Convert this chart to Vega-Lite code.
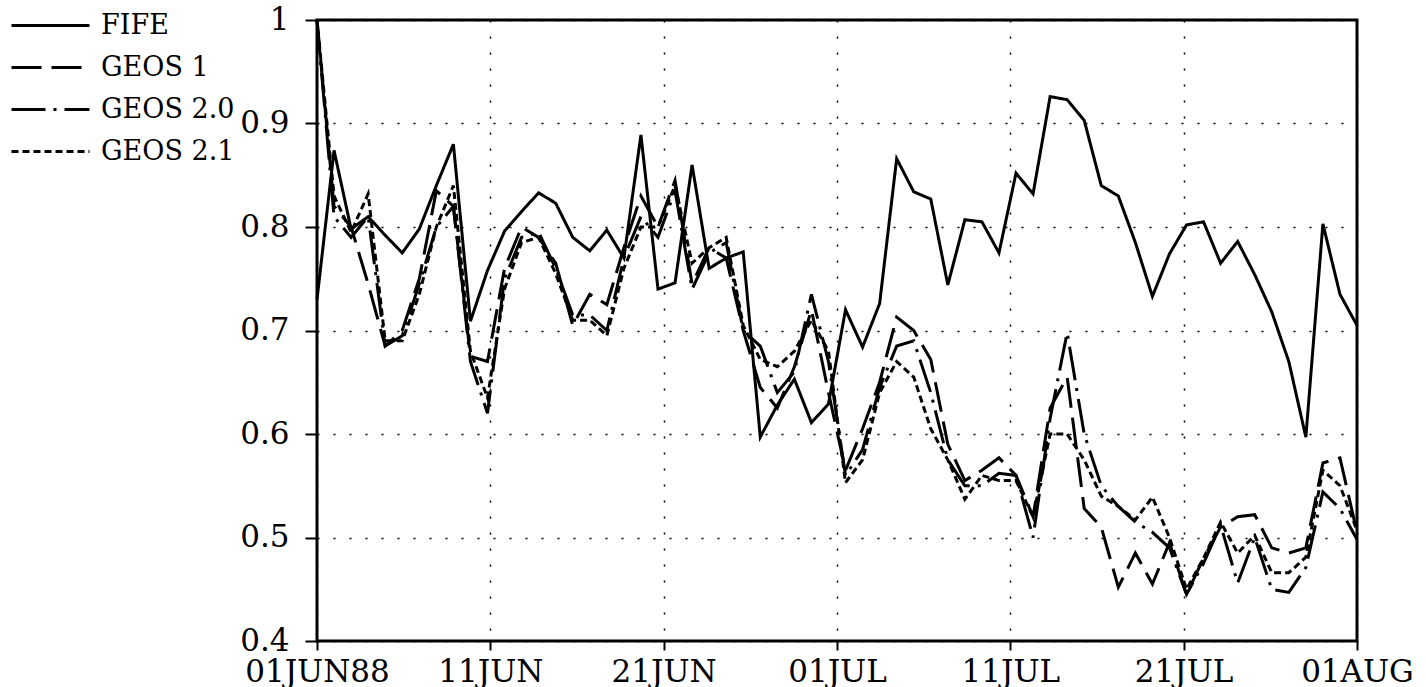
{
  "$schema": "https://vega.github.io/schema/vega-lite/v6.json",
  "width": 1040,
  "height": 621,
  "autosize": "none",
  "padding": {"left": 317, "top": 20, "right": 69, "bottom": 46},
  "background": "white",
  "config": {
    "view": {"stroke": "black", "strokeWidth": 3},
    "font": "DejaVu Serif"
  },
  "data": {"values": [
    {"date":"1988-06-01","series":"FIFE","value":0.73},
    {"date":"1988-06-02","series":"FIFE","value":0.874},
    {"date":"1988-06-03","series":"FIFE","value":0.798},
    {"date":"1988-06-04","series":"FIFE","value":0.81},
    {"date":"1988-06-05","series":"FIFE","value":0.792},
    {"date":"1988-06-06","series":"FIFE","value":0.775},
    {"date":"1988-06-07","series":"FIFE","value":0.798},
    {"date":"1988-06-08","series":"FIFE","value":0.84},
    {"date":"1988-06-09","series":"FIFE","value":0.88},
    {"date":"1988-06-10","series":"FIFE","value":0.709},
    {"date":"1988-06-11","series":"FIFE","value":0.758},
    {"date":"1988-06-12","series":"FIFE","value":0.796},
    {"date":"1988-06-13","series":"FIFE","value":0.815},
    {"date":"1988-06-14","series":"FIFE","value":0.833},
    {"date":"1988-06-15","series":"FIFE","value":0.823},
    {"date":"1988-06-16","series":"FIFE","value":0.79},
    {"date":"1988-06-17","series":"FIFE","value":0.777},
    {"date":"1988-06-18","series":"FIFE","value":0.797},
    {"date":"1988-06-19","series":"FIFE","value":0.77},
    {"date":"1988-06-20","series":"FIFE","value":0.889},
    {"date":"1988-06-21","series":"FIFE","value":0.74},
    {"date":"1988-06-22","series":"FIFE","value":0.746},
    {"date":"1988-06-23","series":"FIFE","value":0.86},
    {"date":"1988-06-24","series":"FIFE","value":0.76},
    {"date":"1988-06-25","series":"FIFE","value":0.77},
    {"date":"1988-06-26","series":"FIFE","value":0.776},
    {"date":"1988-06-27","series":"FIFE","value":0.597},
    {"date":"1988-06-28","series":"FIFE","value":0.628},
    {"date":"1988-06-29","series":"FIFE","value":0.653},
    {"date":"1988-06-30","series":"FIFE","value":0.611},
    {"date":"1988-07-01","series":"FIFE","value":0.629},
    {"date":"1988-07-02","series":"FIFE","value":0.72},
    {"date":"1988-07-03","series":"FIFE","value":0.684},
    {"date":"1988-07-04","series":"FIFE","value":0.726},
    {"date":"1988-07-05","series":"FIFE","value":0.866},
    {"date":"1988-07-06","series":"FIFE","value":0.834},
    {"date":"1988-07-07","series":"FIFE","value":0.827},
    {"date":"1988-07-08","series":"FIFE","value":0.744},
    {"date":"1988-07-09","series":"FIFE","value":0.807},
    {"date":"1988-07-10","series":"FIFE","value":0.805},
    {"date":"1988-07-11","series":"FIFE","value":0.775},
    {"date":"1988-07-12","series":"FIFE","value":0.852},
    {"date":"1988-07-13","series":"FIFE","value":0.832},
    {"date":"1988-07-14","series":"FIFE","value":0.926},
    {"date":"1988-07-15","series":"FIFE","value":0.923},
    {"date":"1988-07-16","series":"FIFE","value":0.903},
    {"date":"1988-07-17","series":"FIFE","value":0.84},
    {"date":"1988-07-18","series":"FIFE","value":0.83},
    {"date":"1988-07-19","series":"FIFE","value":0.785},
    {"date":"1988-07-20","series":"FIFE","value":0.733},
    {"date":"1988-07-21","series":"FIFE","value":0.774},
    {"date":"1988-07-22","series":"FIFE","value":0.802},
    {"date":"1988-07-23","series":"FIFE","value":0.805},
    {"date":"1988-07-24","series":"FIFE","value":0.765},
    {"date":"1988-07-25","series":"FIFE","value":0.786},
    {"date":"1988-07-26","series":"FIFE","value":0.754},
    {"date":"1988-07-27","series":"FIFE","value":0.718},
    {"date":"1988-07-28","series":"FIFE","value":0.67},
    {"date":"1988-07-29","series":"FIFE","value":0.597},
    {"date":"1988-07-30","series":"FIFE","value":0.803},
    {"date":"1988-07-31","series":"FIFE","value":0.735},
    {"date":"1988-08-01","series":"FIFE","value":0.705},

    {"date":"1988-06-01","series":"GEOS 1","value":1.0},
    {"date":"1988-06-02","series":"GEOS 1","value":0.82},
    {"date":"1988-06-03","series":"GEOS 1","value":0.80},
    {"date":"1988-06-04","series":"GEOS 1","value":0.745},
    {"date":"1988-06-05","series":"GEOS 1","value":0.685},
    {"date":"1988-06-06","series":"GEOS 1","value":0.70},
    {"date":"1988-06-07","series":"GEOS 1","value":0.75},
    {"date":"1988-06-08","series":"GEOS 1","value":0.835},
    {"date":"1988-06-09","series":"GEOS 1","value":0.82},
    {"date":"1988-06-10","series":"GEOS 1","value":0.675},
    {"date":"1988-06-11","series":"GEOS 1","value":0.67},
    {"date":"1988-06-12","series":"GEOS 1","value":0.76},
    {"date":"1988-06-13","series":"GEOS 1","value":0.80},
    {"date":"1988-06-14","series":"GEOS 1","value":0.79},
    {"date":"1988-06-15","series":"GEOS 1","value":0.765},
    {"date":"1988-06-16","series":"GEOS 1","value":0.705},
    {"date":"1988-06-17","series":"GEOS 1","value":0.735},
    {"date":"1988-06-18","series":"GEOS 1","value":0.725},
    {"date":"1988-06-19","series":"GEOS 1","value":0.78},
    {"date":"1988-06-20","series":"GEOS 1","value":0.83},
    {"date":"1988-06-21","series":"GEOS 1","value":0.80},
    {"date":"1988-06-22","series":"GEOS 1","value":0.845},
    {"date":"1988-06-23","series":"GEOS 1","value":0.745},
    {"date":"1988-06-24","series":"GEOS 1","value":0.78},
    {"date":"1988-06-25","series":"GEOS 1","value":0.77},
    {"date":"1988-06-26","series":"GEOS 1","value":0.70},
    {"date":"1988-06-27","series":"GEOS 1","value":0.645},
    {"date":"1988-06-28","series":"GEOS 1","value":0.625},
    {"date":"1988-06-29","series":"GEOS 1","value":0.665},
    {"date":"1988-06-30","series":"GEOS 1","value":0.72},
    {"date":"1988-07-01","series":"GEOS 1","value":0.64},
    {"date":"1988-07-02","series":"GEOS 1","value":0.565},
    {"date":"1988-07-03","series":"GEOS 1","value":0.605},
    {"date":"1988-07-04","series":"GEOS 1","value":0.65},
    {"date":"1988-07-05","series":"GEOS 1","value":0.713},
    {"date":"1988-07-06","series":"GEOS 1","value":0.70},
    {"date":"1988-07-07","series":"GEOS 1","value":0.672},
    {"date":"1988-07-08","series":"GEOS 1","value":0.59},
    {"date":"1988-07-09","series":"GEOS 1","value":0.555},
    {"date":"1988-07-10","series":"GEOS 1","value":0.565},
    {"date":"1988-07-11","series":"GEOS 1","value":0.577},
    {"date":"1988-07-12","series":"GEOS 1","value":0.56},
    {"date":"1988-07-13","series":"GEOS 1","value":0.52},
    {"date":"1988-07-14","series":"GEOS 1","value":0.625},
    {"date":"1988-07-15","series":"GEOS 1","value":0.655},
    {"date":"1988-07-16","series":"GEOS 1","value":0.528},
    {"date":"1988-07-17","series":"GEOS 1","value":0.51},
    {"date":"1988-07-18","series":"GEOS 1","value":0.452},
    {"date":"1988-07-19","series":"GEOS 1","value":0.485},
    {"date":"1988-07-20","series":"GEOS 1","value":0.455},
    {"date":"1988-07-21","series":"GEOS 1","value":0.495},
    {"date":"1988-07-22","series":"GEOS 1","value":0.445},
    {"date":"1988-07-23","series":"GEOS 1","value":0.48},
    {"date":"1988-07-24","series":"GEOS 1","value":0.51},
    {"date":"1988-07-25","series":"GEOS 1","value":0.52},
    {"date":"1988-07-26","series":"GEOS 1","value":0.522},
    {"date":"1988-07-27","series":"GEOS 1","value":0.49},
    {"date":"1988-07-28","series":"GEOS 1","value":0.485},
    {"date":"1988-07-29","series":"GEOS 1","value":0.49},
    {"date":"1988-07-30","series":"GEOS 1","value":0.572},
    {"date":"1988-07-31","series":"GEOS 1","value":0.577},
    {"date":"1988-08-01","series":"GEOS 1","value":0.505},

    {"date":"1988-06-01","series":"GEOS 2.0","value":1.0},
    {"date":"1988-06-02","series":"GEOS 2.0","value":0.81},
    {"date":"1988-06-03","series":"GEOS 2.0","value":0.79},
    {"date":"1988-06-04","series":"GEOS 2.0","value":0.81},
    {"date":"1988-06-05","series":"GEOS 2.0","value":0.685},
    {"date":"1988-06-06","series":"GEOS 2.0","value":0.695},
    {"date":"1988-06-07","series":"GEOS 2.0","value":0.745},
    {"date":"1988-06-08","series":"GEOS 2.0","value":0.80},
    {"date":"1988-06-09","series":"GEOS 2.0","value":0.82},
    {"date":"1988-06-10","series":"GEOS 2.0","value":0.67},
    {"date":"1988-06-11","series":"GEOS 2.0","value":0.62},
    {"date":"1988-06-12","series":"GEOS 2.0","value":0.75},
    {"date":"1988-06-13","series":"GEOS 2.0","value":0.79},
    {"date":"1988-06-14","series":"GEOS 2.0","value":0.795},
    {"date":"1988-06-15","series":"GEOS 2.0","value":0.76},
    {"date":"1988-06-16","series":"GEOS 2.0","value":0.715},
    {"date":"1988-06-17","series":"GEOS 2.0","value":0.715},
    {"date":"1988-06-18","series":"GEOS 2.0","value":0.70},
    {"date":"1988-06-19","series":"GEOS 2.0","value":0.77},
    {"date":"1988-06-20","series":"GEOS 2.0","value":0.81},
    {"date":"1988-06-21","series":"GEOS 2.0","value":0.79},
    {"date":"1988-06-22","series":"GEOS 2.0","value":0.835},
    {"date":"1988-06-23","series":"GEOS 2.0","value":0.74},
    {"date":"1988-06-24","series":"GEOS 2.0","value":0.775},
    {"date":"1988-06-25","series":"GEOS 2.0","value":0.785},
    {"date":"1988-06-26","series":"GEOS 2.0","value":0.70},
    {"date":"1988-06-27","series":"GEOS 2.0","value":0.685},
    {"date":"1988-06-28","series":"GEOS 2.0","value":0.64},
    {"date":"1988-06-29","series":"GEOS 2.0","value":0.66},
    {"date":"1988-06-30","series":"GEOS 2.0","value":0.735},
    {"date":"1988-07-01","series":"GEOS 2.0","value":0.67},
    {"date":"1988-07-02","series":"GEOS 2.0","value":0.56},
    {"date":"1988-07-03","series":"GEOS 2.0","value":0.585},
    {"date":"1988-07-04","series":"GEOS 2.0","value":0.645},
    {"date":"1988-07-05","series":"GEOS 2.0","value":0.685},
    {"date":"1988-07-06","series":"GEOS 2.0","value":0.69},
    {"date":"1988-07-07","series":"GEOS 2.0","value":0.64},
    {"date":"1988-07-08","series":"GEOS 2.0","value":0.575},
    {"date":"1988-07-09","series":"GEOS 2.0","value":0.55},
    {"date":"1988-07-10","series":"GEOS 2.0","value":0.55},
    {"date":"1988-07-11","series":"GEOS 2.0","value":0.562},
    {"date":"1988-07-12","series":"GEOS 2.0","value":0.56},
    {"date":"1988-07-13","series":"GEOS 2.0","value":0.50},
    {"date":"1988-07-14","series":"GEOS 2.0","value":0.615},
    {"date":"1988-07-15","series":"GEOS 2.0","value":0.698},
    {"date":"1988-07-16","series":"GEOS 2.0","value":0.60},
    {"date":"1988-07-17","series":"GEOS 2.0","value":0.55},
    {"date":"1988-07-18","series":"GEOS 2.0","value":0.53},
    {"date":"1988-07-19","series":"GEOS 2.0","value":0.515},
    {"date":"1988-07-20","series":"GEOS 2.0","value":0.505},
    {"date":"1988-07-21","series":"GEOS 2.0","value":0.49},
    {"date":"1988-07-22","series":"GEOS 2.0","value":0.445},
    {"date":"1988-07-23","series":"GEOS 2.0","value":0.475},
    {"date":"1988-07-24","series":"GEOS 2.0","value":0.512},
    {"date":"1988-07-25","series":"GEOS 2.0","value":0.456},
    {"date":"1988-07-26","series":"GEOS 2.0","value":0.50},
    {"date":"1988-07-27","series":"GEOS 2.0","value":0.45},
    {"date":"1988-07-28","series":"GEOS 2.0","value":0.447},
    {"date":"1988-07-29","series":"GEOS 2.0","value":0.471},
    {"date":"1988-07-30","series":"GEOS 2.0","value":0.544},
    {"date":"1988-07-31","series":"GEOS 2.0","value":0.528},
    {"date":"1988-08-01","series":"GEOS 2.0","value":0.498},

    {"date":"1988-06-01","series":"GEOS 2.1","value":1.0},
    {"date":"1988-06-02","series":"GEOS 2.1","value":0.83},
    {"date":"1988-06-03","series":"GEOS 2.1","value":0.795},
    {"date":"1988-06-04","series":"GEOS 2.1","value":0.832},
    {"date":"1988-06-05","series":"GEOS 2.1","value":0.69},
    {"date":"1988-06-06","series":"GEOS 2.1","value":0.69},
    {"date":"1988-06-07","series":"GEOS 2.1","value":0.735},
    {"date":"1988-06-08","series":"GEOS 2.1","value":0.80},
    {"date":"1988-06-09","series":"GEOS 2.1","value":0.84},
    {"date":"1988-06-10","series":"GEOS 2.1","value":0.68},
    {"date":"1988-06-11","series":"GEOS 2.1","value":0.635},
    {"date":"1988-06-12","series":"GEOS 2.1","value":0.74},
    {"date":"1988-06-13","series":"GEOS 2.1","value":0.785},
    {"date":"1988-06-14","series":"GEOS 2.1","value":0.79},
    {"date":"1988-06-15","series":"GEOS 2.1","value":0.755},
    {"date":"1988-06-16","series":"GEOS 2.1","value":0.71},
    {"date":"1988-06-17","series":"GEOS 2.1","value":0.71},
    {"date":"1988-06-18","series":"GEOS 2.1","value":0.695},
    {"date":"1988-06-19","series":"GEOS 2.1","value":0.76},
    {"date":"1988-06-20","series":"GEOS 2.1","value":0.80},
    {"date":"1988-06-21","series":"GEOS 2.1","value":0.80},
    {"date":"1988-06-22","series":"GEOS 2.1","value":0.84},
    {"date":"1988-06-23","series":"GEOS 2.1","value":0.765},
    {"date":"1988-06-24","series":"GEOS 2.1","value":0.78},
    {"date":"1988-06-25","series":"GEOS 2.1","value":0.79},
    {"date":"1988-06-26","series":"GEOS 2.1","value":0.705},
    {"date":"1988-06-27","series":"GEOS 2.1","value":0.672},
    {"date":"1988-06-28","series":"GEOS 2.1","value":0.665},
    {"date":"1988-06-29","series":"GEOS 2.1","value":0.68},
    {"date":"1988-06-30","series":"GEOS 2.1","value":0.71},
    {"date":"1988-07-01","series":"GEOS 2.1","value":0.68},
    {"date":"1988-07-02","series":"GEOS 2.1","value":0.553},
    {"date":"1988-07-03","series":"GEOS 2.1","value":0.575},
    {"date":"1988-07-04","series":"GEOS 2.1","value":0.64},
    {"date":"1988-07-05","series":"GEOS 2.1","value":0.67},
    {"date":"1988-07-06","series":"GEOS 2.1","value":0.655},
    {"date":"1988-07-07","series":"GEOS 2.1","value":0.605},
    {"date":"1988-07-08","series":"GEOS 2.1","value":0.575},
    {"date":"1988-07-09","series":"GEOS 2.1","value":0.537},
    {"date":"1988-07-10","series":"GEOS 2.1","value":0.56},
    {"date":"1988-07-11","series":"GEOS 2.1","value":0.555},
    {"date":"1988-07-12","series":"GEOS 2.1","value":0.555},
    {"date":"1988-07-13","series":"GEOS 2.1","value":0.52},
    {"date":"1988-07-14","series":"GEOS 2.1","value":0.60},
    {"date":"1988-07-15","series":"GEOS 2.1","value":0.60},
    {"date":"1988-07-16","series":"GEOS 2.1","value":0.575},
    {"date":"1988-07-17","series":"GEOS 2.1","value":0.54},
    {"date":"1988-07-18","series":"GEOS 2.1","value":0.53},
    {"date":"1988-07-19","series":"GEOS 2.1","value":0.517},
    {"date":"1988-07-20","series":"GEOS 2.1","value":0.539},
    {"date":"1988-07-21","series":"GEOS 2.1","value":0.50},
    {"date":"1988-07-22","series":"GEOS 2.1","value":0.45},
    {"date":"1988-07-23","series":"GEOS 2.1","value":0.48},
    {"date":"1988-07-24","series":"GEOS 2.1","value":0.515},
    {"date":"1988-07-25","series":"GEOS 2.1","value":0.485},
    {"date":"1988-07-26","series":"GEOS 2.1","value":0.502},
    {"date":"1988-07-27","series":"GEOS 2.1","value":0.466},
    {"date":"1988-07-28","series":"GEOS 2.1","value":0.466},
    {"date":"1988-07-29","series":"GEOS 2.1","value":0.481},
    {"date":"1988-07-30","series":"GEOS 2.1","value":0.565},
    {"date":"1988-07-31","series":"GEOS 2.1","value":0.55},
    {"date":"1988-08-01","series":"GEOS 2.1","value":0.507}
  ]},
  "mark": {"type": "line", "color": "black", "strokeWidth": 3, "strokeCap": "butt", "strokeJoin": "miter"},
  "encoding": {
    "x": {
      "field": "date", "type": "temporal",
      "scale": {"type": "utc", "domain": [
        {"year": 1988, "month": 6, "date": 1, "utc": true},
        {"year": 1988, "month": 8, "date": 1, "utc": true}
      ]},
      "axis": {
        "title": null,
        "values": [
          {"year": 1988, "month": 6, "date": 1, "hours": 0, "utc": true},
          {"year": 1988, "month": 6, "date": 11, "hours": 4, "utc": true},
          {"year": 1988, "month": 6, "date": 21, "hours": 8, "utc": true},
          {"year": 1988, "month": 7, "date": 1, "hours": 12, "utc": true},
          {"year": 1988, "month": 7, "date": 11, "hours": 16, "utc": true},
          {"year": 1988, "month": 7, "date": 21, "hours": 20, "utc": true},
          {"year": 1988, "month": 8, "date": 1, "hours": 0, "utc": true}
        ],
        "labelExpr": "utcFormat(datum.value, '%m%d') == '0601' ? '01JUN88' : upper(utcFormat(datum.value, '%d%b'))",
        "grid": true, "gridColor": "black", "gridDash": [2, 14], "gridWidth": 1.5, "gridOpacity": 1,
        "domain": false,
        "ticks": true, "tickColor": "black", "tickWidth": 2, "tickSize": 9,
        "labelFont": "DejaVu Serif", "labelFontSize": 31, "labelColor": "black",
        "labelPadding": 7, "labelFlush": false, "labelOverlap": false
      }
    },
    "y": {
      "field": "value", "type": "quantitative",
      "scale": {"domain": [0.4, 1], "nice": false, "zero": false},
      "axis": {
        "title": null,
        "values": [0.4, 0.5, 0.6, 0.7, 0.8, 0.9, 1],
        "format": ".1~f",
        "grid": true, "gridColor": "black", "gridDash": [2, 14], "gridWidth": 1.5, "gridOpacity": 1,
        "domain": false,
        "ticks": true, "tickColor": "black", "tickWidth": 2, "tickSize": 12,
        "labelFont": "DejaVu Serif", "labelFontSize": 31, "labelColor": "black",
        "labelPadding": 16, "labelFlush": false, "labelOverlap": false
      }
    },
    "strokeDash": {
      "field": "series", "type": "nominal",
      "scale": {
        "domain": ["FIFE", "GEOS 1", "GEOS 2.0", "GEOS 2.1"],
        "range": [[1, 0], [30, 10], [34, 8, 3, 8], [7, 4]]
      },
      "legend": {
        "title": null,
        "orient": "none",
        "legendX": -281,
        "legendY": -9,
        "padding": 0,
        "symbolType": "M-3,0H3",
        "symbolSize": 676,
        "symbolStrokeWidth": 3,
        "symbolStrokeColor": "black",
        "symbolFillColor": "transparent",
        "symbolOffset": 0,
        "labelFont": "DejaVu Serif",
        "labelFontSize": 27,
        "labelColor": "black",
        "labelOffset": 36,
        "rowPadding": 14
      }
    }
  }
}
